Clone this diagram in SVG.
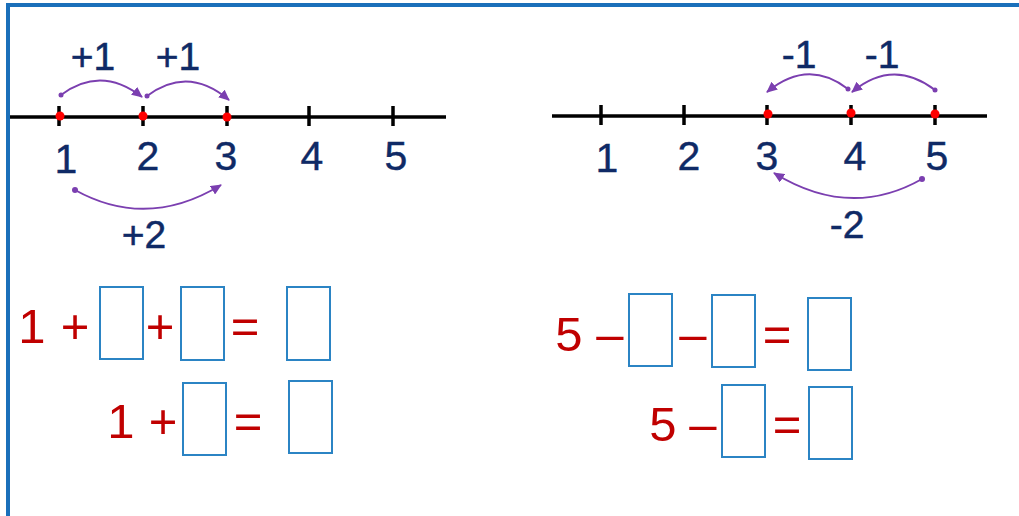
<svg xmlns="http://www.w3.org/2000/svg" width="1019" height="516" viewBox="0 0 1019 516">
<style>
.axis{stroke:#000;stroke-width:3.5;fill:none}
.tick{stroke:#000;stroke-width:3.5}
.dot{fill:#ff0000}
.num{font-family:"Liberation Sans",Arial,sans-serif;font-size:41px;fill:#0f2a66;stroke:#0f2a66;stroke-width:0.4;text-anchor:middle}
.step{font-family:"Liberation Sans",Arial,sans-serif;font-size:39px;fill:#0f2a66;stroke:#0f2a66;stroke-width:0.5;text-anchor:middle}
.jump{stroke:#7b3fb0;stroke-width:2;fill:none;marker-end:url(#ah)}
.sdot{fill:#7b3fb0}
.eq{font-family:"Liberation Sans",Arial,sans-serif;font-size:49px;fill:#c00000;text-anchor:middle}
.box{fill:#fff;stroke:#2b84c4;stroke-width:2}
</style>
<defs>
<marker id="ah" markerUnits="userSpaceOnUse" markerWidth="12" markerHeight="10" refX="10" refY="5" orient="auto">
<path d="M0,0 L11,5 L0,10 z" fill="#7b3fb0"/>
</marker>
</defs>
<rect x="0" y="0" width="1019" height="516" fill="#fff"/>
<g id="frame">
<rect x="6" y="3" width="1013" height="4" fill="#1a6fba"/>
<rect x="6" y="3" width="4" height="513" fill="#1a6fba"/>
</g>
<g id="numberline-left">
<line class="axis" x1="10" y1="117" x2="446" y2="117"/>
<line class="tick" x1="59" y1="106" x2="59" y2="126"/>
<line class="tick" x1="143" y1="106" x2="143" y2="126"/>
<line class="tick" x1="227" y1="106" x2="227" y2="126"/>
<line class="tick" x1="309" y1="106" x2="309" y2="126"/>
<line class="tick" x1="393" y1="106" x2="393" y2="126"/>
<circle class="dot" cx="60" cy="116" r="4.5"/>
<circle class="dot" cx="143" cy="116" r="4.5"/>
<circle class="dot" cx="227" cy="117" r="4.5"/>
<text class="num" x="66" y="173">1</text>
<text class="num" x="148" y="170">2</text>
<text class="num" x="226" y="170">3</text>
<text class="num" x="312" y="170">4</text>
<text class="num" x="396" y="170">5</text>
</g>
<g id="numberline-right">
<line class="axis" x1="552" y1="116" x2="987" y2="116"/>
<line class="tick" x1="601" y1="105" x2="601" y2="125"/>
<line class="tick" x1="684" y1="105" x2="684" y2="125"/>
<line class="tick" x1="767" y1="105" x2="767" y2="125"/>
<line class="tick" x1="851" y1="105" x2="851" y2="125"/>
<line class="tick" x1="935" y1="105" x2="935" y2="125"/>
<circle class="dot" cx="768" cy="114" r="4.5"/>
<circle class="dot" cx="851" cy="113" r="4.5"/>
<circle class="dot" cx="935" cy="114" r="4.5"/>
<text class="num" x="607" y="172">1</text>
<text class="num" x="689" y="170">2</text>
<text class="num" x="767" y="170">3</text>
<text class="num" x="855" y="170">4</text>
<text class="num" x="937" y="170">5</text>
</g>
<g id="connectors">
<path class="jump" d="M61,95 Q101,65 142,97"/>
<circle class="sdot" cx="61" cy="95" r="2.5"/>
<path class="jump" d="M147,96 Q188,65 229,100"/>
<circle class="sdot" cx="147" cy="96" r="2.5"/>
<path class="jump" d="M75,190 Q147,230 221,185"/>
<circle class="sdot" cx="75" cy="190" r="3"/>
<path class="jump" d="M848,89 Q808,58 767,92"/>
<circle class="sdot" cx="848" cy="89" r="2.5"/>
<path class="jump" d="M935,90 Q893,58 852,92"/>
<circle class="sdot" cx="935" cy="90" r="2.5"/>
<path class="jump" d="M922,179 Q850,220 774,173"/>
<circle class="sdot" cx="922" cy="179" r="3"/>
</g>
<g id="jump-labels">
<text class="step" x="93" y="70">+1</text>
<text class="step" x="178" y="70">+1</text>
<text class="step" x="144" y="248">+2</text>
<text class="step" x="799" y="68">-1</text>
<text class="step" x="882" y="68">-1</text>
<text class="step" x="847" y="238">-2</text>
</g>
<g id="equation-left-1">
<text class="eq" x="32" y="343">1</text>
<text class="eq" x="75" y="343">+</text>
<rect class="box" x="100" y="287" width="43" height="72"/>
<text class="eq" x="160" y="343">+</text>
<rect class="box" x="181" y="287" width="43" height="73"/>
<text class="eq" x="245" y="343">=</text>
<rect class="box" x="287" y="287" width="43" height="73"/>
</g>
<g id="equation-left-2">
<text class="eq" x="121" y="438">1</text>
<text class="eq" x="163" y="438">+</text>
<rect class="box" x="183" y="383" width="43" height="72"/>
<text class="eq" x="248" y="438">=</text>
<rect class="box" x="289" y="381" width="43" height="72"/>
</g>
<g id="equation-right-1">
<text class="eq" x="569" y="351">5</text>
<text class="eq" x="610" y="351">–</text>
<rect class="box" x="629" y="294" width="43" height="72"/>
<text class="eq" x="693" y="351">–</text>
<rect class="box" x="712" y="295" width="43" height="72"/>
<text class="eq" x="777" y="351">=</text>
<rect class="box" x="808" y="298" width="43" height="72"/>
</g>
<g id="equation-right-2">
<text class="eq" x="663" y="441">5</text>
<text class="eq" x="703" y="441">–</text>
<rect class="box" x="722" y="385" width="43" height="72"/>
<text class="eq" x="787" y="441">=</text>
<rect class="box" x="809" y="387" width="43" height="72"/>
</g>
</svg>
